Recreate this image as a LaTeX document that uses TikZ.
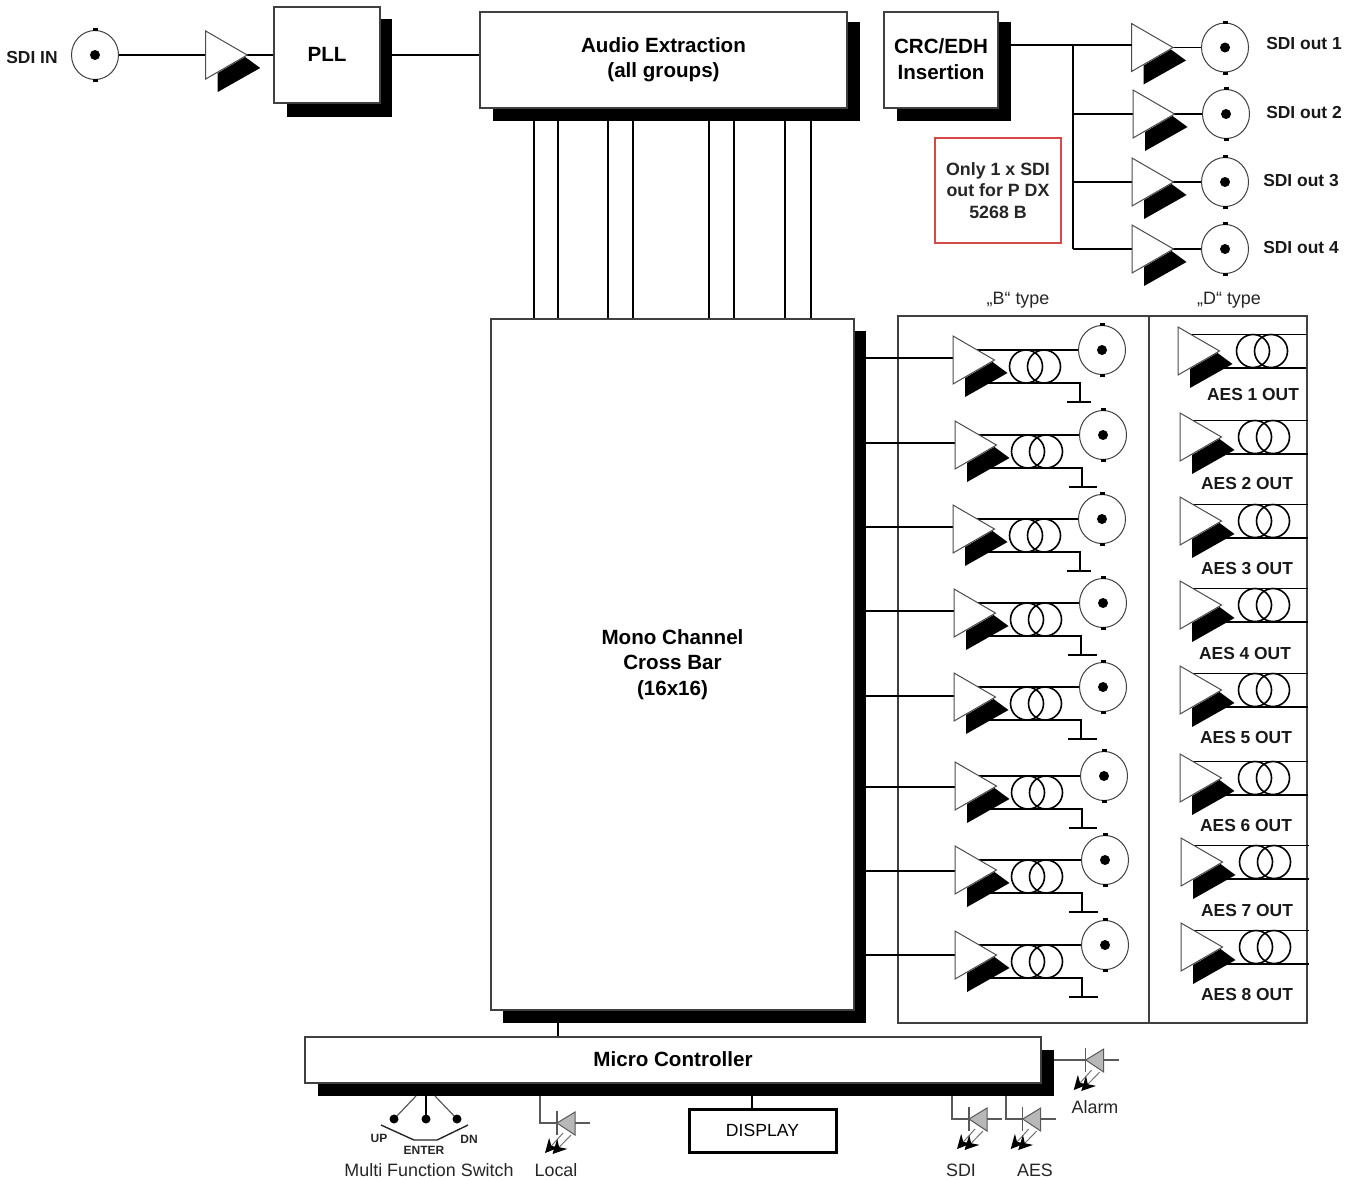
\documentclass[tikz,border=0pt]{standalone}
\usepackage{fontspec}
\setmainfont{Liberation Sans}
\usetikzlibrary{arrows.meta}
\definecolor{notered}{RGB}{214,72,72}
\newcommand{\placebox}[7][boxed]{%
  \node[#1,minimum width={(#5-#3)*0.5pt},minimum height={(#6-#4)*0.5pt}] (#2) at ({(#3+#5)/2},{(#4+#6)/2}) {#7};}
\tikzset{
  x=0.5pt,y=-0.5pt,
  wire/.style={line width=0.6pt,black},
  greywire/.style={line width=0.6pt,black!65},
  boxed/.style={draw=black!75,fill=white,line width=0.55pt,inner sep=0pt,align=center,font=\bfseries\fontsize{10.3}{12.6}\selectfont},
  shadowbox/.style={fill=black,draw=none,inner sep=0pt},
  panelbox/.style={draw=black!75,line width=0.55pt,inner sep=0pt},
  plainlabel/.style={inner sep=0pt,align=center,font=\fontsize{8.95}{10.5}\selectfont,text=black!85},
  boldlabel/.style={inner sep=0pt,align=center,font=\bfseries\fontsize{8.7}{10.5}\selectfont,text=black!90},
  tinylabel/.style={inner sep=0pt,font=\bfseries\fontsize{6}{7}\selectfont,text=black!85},
  amp/.pic={
    \path[draw=black!70,fill=white,line width=0.5pt] (0,-24) -- (41.5,0) -- (0,24) -- cycle;
    \fill[black] (12,37) -- (54.5,13) -- (39.5,2) -- (12,18) -- cycle;
    \coordinate (-out) at (41.5,0);
  },
  bnc/.pic={
    \path[draw=black!75,fill=white,line width=0.5pt] (0,0) circle[x radius=23.5,y radius=24.5];
    \fill[black] (0,0) circle[radius=5];
    \fill[black] (-2.5,-27) rectangle (2.5,-24);
    \fill[black] (-2.5,24) rectangle (2.5,27);
    \coordinate (-w) at (-23.5,0);
  },
  coil/.pic={
    \draw[line width=0.8pt] (-9,0) circle[radius=16.5];
    \draw[line width=0.8pt] (9,0) circle[radius=16.5];
  },
  led/.pic={
    \path[draw=black!65,fill=black!28,line width=0.5pt] (0,0) -- (18,-11) -- (18,12) -- cycle;
    \draw[greywire] (0,-12) -- (0,12);
    \draw[greywire] (18,0) -- (33,0);
    \draw[black!55,line width=0.5pt,-{Stealth[length=7pt,width=7pt,black]}] (6,10) -- (-12,30);
    \draw[black!55,line width=0.5pt,-{Stealth[length=7pt,width=7pt,black]}] (14,12) -- (-4.5,31);
  }
}
\begin{document}
\begin{tikzpicture}
\useasboundingbox (0,0) rectangle (1352,1179);
% --- shadows
\placebox[shadowbox]{pllshadow}{287}{19}{392}{117}{}
\placebox[shadowbox]{audioshadow}{493}{22}{860}{121}{}
\placebox[shadowbox]{crcshadow}{897}{22}{1011}{121}{}
\placebox[shadowbox]{xbarshadow}{503}{331}{866}{1023}{}
\placebox[shadowbox]{mcshadow}{318}{1050}{1054}{1096}{}
% --- panel
\placebox[panelbox]{panelb}{898}{316}{1149}{1023}{}
\placebox[panelbox]{paneld}{1149}{316}{1307}{1023}{}
\node[plainlabel] (typeb) at (1018,300) {„B“ type};
\node[plainlabel] (typed) at (1229,300) {„D“ type};
% --- boxes
\placebox{pll}{274}{7}{380}{103}{\raisebox{0.5pt}{PLL}}
\placebox{audio}{480}{12}{847}{108}{Audio Extraction\\(all groups)}
\placebox{crc}{884}{12}{998}{108}{\raisebox{1pt}{CRC/EDH}\\\raisebox{1pt}{Insertion}}
\placebox{xbar}{491}{319}{854}{1010}{Mono Channel\\Cross Bar\\(16x16)}
\placebox{mc}{305}{1037}{1041}{1083}{\raisebox{1pt}{Micro Controller}}
\placebox[boxed,draw=black,line width=1.5pt,font=\fontsize{8.8}{10.5}\selectfont]{display}{689}{1109}{836}{1152}{DISPLAY}
\placebox[draw=notered,line width=0.6pt,inner sep=0pt,align=center,font=\bfseries\fontsize{8.9}{10.7}\selectfont,text=black!85]{note}{935}{138}{1061}{243}{Only 1 x SDI\\out for P DX\\5268 B}
% --- input chain
\node[boldlabel] (sdiin) at (32,57.5) {SDI IN};
\coordinate (inbnc) at (95,55);
\coordinate (inamp) at (205.7,55);
\draw[wire] (inbnc) -- (inamp);
\draw[wire] (inamp) -- (pll.west |- inamp);
\draw[wire] (pllshadow.east |- inamp) -- (audio.west |- inamp);
\pic (bin) at (inbnc) {bnc};
\pic (ain) at (inamp) {amp};
% --- audio to crossbar
\foreach \x in {534,558,608,633,709,734,785,811}{
  \coordinate (top\x) at (\x,121);
  \draw[wire] (top\x) -- (top\x |- xbar.north);
}
% --- SDI outputs
\coordinate (crcout) at (1011,45);
\coordinate (split) at (1073,45);
\foreach \i/\ax/\ay/\bx/\tx/\ty/\iy in {1/1131.5/47.5/1225/1304/43.5/45,2/1133/114/1226/1304/112.5/114,3/1132/182/1225/1301/180.5/182,4/1132/249/1225/1301/247.5/249}{
  \coordinate (oa\i) at (\ax,\ay);
  \coordinate (ob\i) at (\bx,\ay);
  \coordinate (oi\i) at (\ax,\iy);
  \draw[wire] (oi\i -| split) -- (oi\i);
  \draw[wire] (oa\i) -- (ob\i);
  \pic (oamp\i) at (oa\i) {amp};
  \pic (obnc\i) at (ob\i) {bnc};
  \node[boldlabel] (olab\i) at (\tx,\ty) {SDI out \i};
}
\draw[wire] (crcout) -- (oi1);
\draw[wire] (split) -- (oi4 -| split);
% --- B type outputs
\foreach \i/\c/\dx/\bdx/\iy/\gr in {1/350/0/0/358/1091,2/435/2/1/443/1097,3/519/0/0/527/1091,4/603/1/1/611/1097,5/687/1/1/696/1097,6/776/2/2/787/1097,7/860/2/3/871/1098,8/945/2/3/955/1098}{
  \coordinate (ba\i) at ({953+\dx},{\c+10});
  \coordinate (bi\i) at ({953+\dx},\iy);
  \coordinate (bt\i) at ({1035+\dx},{\c+16.5});
  \coordinate (bb\i) at ({1102+\bdx},\c);
  \coordinate (bu\i) at ({965+\dx},\c);
  \coordinate (bl\i) at ({985+\dx},{\c+33});
  \coordinate (bc\i) at ({1080+\dx},{\c+33});
  \coordinate (bg\i) at ({1080+\dx},{\c+51.5});
  \coordinate (bgl\i) at ({1067+\dx},{\c+51.5});
  \coordinate (bgr\i) at (\gr,{\c+51.5});
  \draw[wire] (xbarshadow.east |- bi\i) -- (bi\i);
  \draw[wire] (bu\i) -- (bb\i);
  \draw[wire] (bl\i) -- (bc\i) -- (bg\i);
  \draw[wire,line width=1pt] (bgl\i) -- (bgr\i);
  \pic (bamp\i) at (ba\i) {amp};
  \pic (bcoil\i) at (bt\i) {coil};
  \pic (bbnc\i) at (bb\i) {bnc};
}
% --- D type outputs
\foreach \i/\c/\dx/\tx/\ty in {1/351/0/1253/394,2/437/2/1247/483,3/521/2/1247/569,4/605/2/1245/653,5/690/2/1246/737,6/778/2/1246/825,7/862/3/1247/910,8/947/3/1247/994}{
  \coordinate (da\i) at ({1178+\dx},\c);
  \coordinate (dt\i) at ({1262+\dx},\c);
  \coordinate (du\i) at ({1190+\dx},{\c-16.5});
  \coordinate (dur\i) at ({1306+\dx},{\c-16.5});
  \coordinate (dl\i) at ({1210+\dx},{\c+17});
  \coordinate (dlr\i) at ({1306+\dx},{\c+17});
  \draw[wire,line width=0.8pt] (du\i) -- (dur\i);
  \draw[wire,line width=0.8pt] (dl\i) -- (dlr\i);
  \pic (damp\i) at (da\i) {amp};
  \pic (dcoil\i) at (dt\i) {coil};
  \node[boldlabel] (dlab\i) at (\tx,\ty) {AES \i\ OUT};
}
% --- controller links
\draw[wire] (558,1023) coordinate (xbarfoot) -- (xbarfoot |- mc.north);
\coordinate (dispup) at (752,1096);
\draw[wire] (dispup) -- (dispup |- display.north);
% --- switch
\coordinate (swa) at (394,1119);
\coordinate (swb) at (426,1119);
\coordinate (swc) at (457,1119);
\coordinate (swat) at (416,1096);
\coordinate (swbt) at (426,1096);
\coordinate (swct) at (435,1096);
\draw[greywire] (swat) -- (swa);
\draw[wire] (swbt) -- (swb);
\draw[greywire] (swct) -- (swc);
\fill[black] (swa) circle[radius=4.5] (swb) circle[radius=4.5] (swc) circle[radius=4.5];
\draw[line width=0.7pt,black!85] (381,1125) -- (414,1140) -- (437,1140) -- (468,1125);
\node[tinylabel] (swup) at (379,1138) {UP};
\node[tinylabel] (swen) at (424,1150) {ENTER};
\node[tinylabel] (swdn) at (469,1139) {DN};
\node[plainlabel] (swname) at (429,1170) {Multi Function Switch};
% --- LEDs
\coordinate (ledl) at (557,1123);
\coordinate (leds) at (969,1119);
\coordinate (leda) at (1022.7,1119);
\coordinate (ledr) at (1085.7,1060);
\draw[greywire] (540,1096) |- (ledl);
\draw[greywire] (952,1096) |- (leds);
\draw[greywire] (1006,1096) |- (leda);
\draw[greywire] (mcshadow.east |- ledr) -- (ledr);
\pic (pl) at (ledl) {led};
\pic (ps) at (leds) {led};
\pic (pa) at (leda) {led};
\pic (pr) at (ledr) {led};
\node[plainlabel] (lbl) at (556,1170) {Local};
\node[plainlabel] (lbs) at (961,1170) {SDI};
\node[plainlabel] (lba) at (1035,1170) {AES};
\node[plainlabel] (lbr) at (1095,1107) {Alarm};
\end{tikzpicture}
\end{document}
